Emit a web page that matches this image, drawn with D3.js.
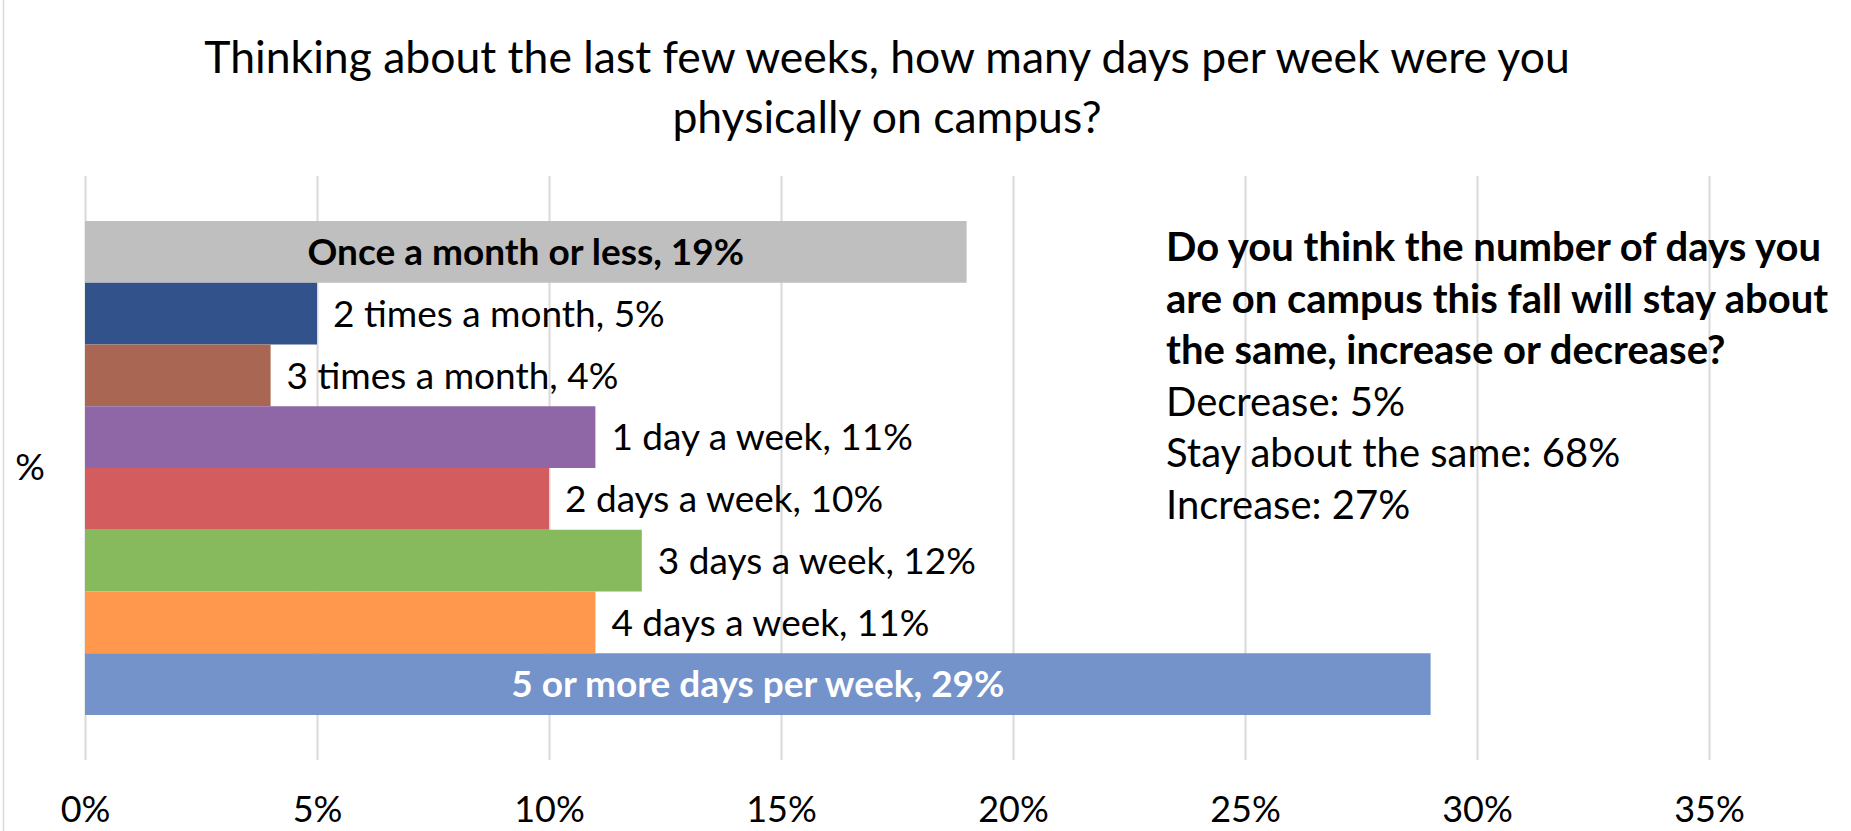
<!DOCTYPE html>
<html>
<head>
<meta charset="utf-8">
<script src="https://cdn.jsdelivr.net/npm/d3@7"></script>
<style>
  body { margin: 0; background: #fff; }
  svg { display: block; font-family: Lato, "Open Sans", sans-serif; }
</style>
</head>
<body>
<div id="chart"></div>
<script>
var categories = [
    "Once a month or less",
    "2 times a month",
    "3 times a month",
    "1 day a week",
    "2 days a week",
    "3 days a week",
    "4 days a week",
    "5 or more days per week"
];
var values = [19, 5, 4, 11, 10, 12, 11, 29];
var barColors = ["#BFBFBF", "#31528A", "#A96753", "#8F67A6", "#D35C5E", "#86BA5C", "#FF984C", "#7393CA"];
var xTicks = [0, 5, 10, 15, 20, 25, 30, 35];
var groupLabel = ["%"];

var titleLines = [
    "Thinking about the last few weeks, how many days per week were you",
    "physically on campus?"
];
var noteQuestion = [
    "Do you think the number of days you",
    "are on campus this fall will stay about",
    "the same, increase or decrease?"
];
var noteAnswers = ["Decrease", "Stay about the same", "Increase"];
var noteValues = [5, 68, 27];

// which labels sit inside the bar (bold)
var insideLabel = [true, false, false, false, false, false, false, true];
var insideColor = ["#000", null, null, null, null, null, null, "#fff"];

var W = 1851, H = 831;
var plot = { left: 85, right: 1709, top: 176, bottom: 760 };

var svg = d3.select("#chart")
    .append("svg")
    .attr("width", W)
    .attr("height", H);

// left border of the chart area
svg.append("line")
    .attr("x1", 3.5).attr("x2", 3.5)
    .attr("y1", 0).attr("y2", H)
    .attr("stroke", "#D9D9D9")
    .attr("stroke-width", 1.5);

var x = d3.scaleLinear()
    .domain([0, 35])
    .range([plot.left, plot.right]);

var y0 = d3.scaleBand()
    .domain(groupLabel)
    .range([plot.top, plot.bottom])
    .paddingInner(0)
    .paddingOuter(0.0911);

var y1 = d3.scaleBand()
    .domain(categories)
    .range([0, y0.bandwidth()])
    .padding(0);

// gridlines
var grid = svg.append("g")
    .attr("class", "grid")
    .attr("transform", "translate(0," + plot.bottom + ")")
    .call(d3.axisBottom(x)
        .tickValues(xTicks)
        .tickSize(-(plot.bottom - plot.top))
        .tickFormat(""));
grid.select(".domain").remove();
grid.selectAll("line")
    .attr("stroke", "#D9D9D9")
    .attr("stroke-width", 2);

// tick labels
var xAxis = svg.append("g")
    .attr("transform", "translate(0," + plot.bottom + ")")
    .call(d3.axisBottom(x)
        .tickValues(xTicks)
        .tickSize(0)
        .tickPadding(36)
        .tickFormat(function(d) { return d + "%"; }));
xAxis.select(".domain").remove();
xAxis.selectAll("text")
    .attr("font-family", "Lato, sans-serif")
    .attr("font-size", 36)
    .attr("fill", "#000");

// category label
var yAxis = svg.append("g")
    .attr("transform", "translate(" + plot.left + ",0)")
    .call(d3.axisLeft(y0).tickSize(0).tickPadding(40));
yAxis.select(".domain").remove();
yAxis.selectAll("text")
    .attr("font-family", "Lato, sans-serif")
    .attr("font-size", 37)
    .attr("fill", "#000");

var rows = categories.map(function(c, i) {
    return { cat: c, value: values[i], color: barColors[i], inside: insideLabel[i], textColor: insideColor[i] };
});

var group = svg.append("g")
    .attr("transform", "translate(0," + y0(groupLabel[0]) + ")");

group.selectAll("rect")
    .data(rows)
    .enter().append("rect")
    .attr("x", x(0))
    .attr("y", function(d) { return y1(d.cat); })
    .attr("width", function(d) { return x(d.value) - x(0); })
    .attr("height", y1.bandwidth())
    .attr("fill", function(d) { return d.color; });

group.selectAll("text.label")
    .data(rows)
    .enter().append("text")
    .attr("class", "label")
    .attr("x", function(d) {
        return d.inside ? (x(0) + x(d.value)) / 2 : x(d.value) + 16;
    })
    .attr("y", function(d) { return y1(d.cat) + y1.bandwidth() / 2; })
    .attr("dy", "0.36em")
    .attr("text-anchor", function(d) { return d.inside ? "middle" : "start"; })
    .attr("font-size", 37)
    .attr("font-weight", function(d) { return d.inside ? "bold" : "normal"; })
    .attr("fill", function(d) { return d.inside ? d.textColor : "#000"; })
    .text(function(d) { return d.cat + ", " + d.value + "%"; });

// title
svg.append("g").selectAll("text")
    .data(titleLines)
    .enter().append("text")
    .attr("x", 887)
    .attr("y", function(d, i) { return 73 + i * 60; })
    .attr("text-anchor", "middle")
    .attr("font-size", 44.5)
    .attr("fill", "#000")
    .text(function(d) { return d; });

// side note
var noteLines = noteQuestion.map(function(t) { return { text: t, bold: true }; })
    .concat(noteAnswers.map(function(a, i) { return { text: a + ": " + noteValues[i] + "%", bold: false }; }));

svg.append("g").selectAll("text")
    .data(noteLines)
    .enter().append("text")
    .attr("x", 1166)
    .attr("y", function(d, i) { return 261 + i * 51.6; })
    .attr("font-size", 40)
    .attr("font-weight", function(d) { return d.bold ? "bold" : "normal"; })
    .attr("fill", "#000")
    .text(function(d) { return d.text; });
</script>
</body>
</html>
